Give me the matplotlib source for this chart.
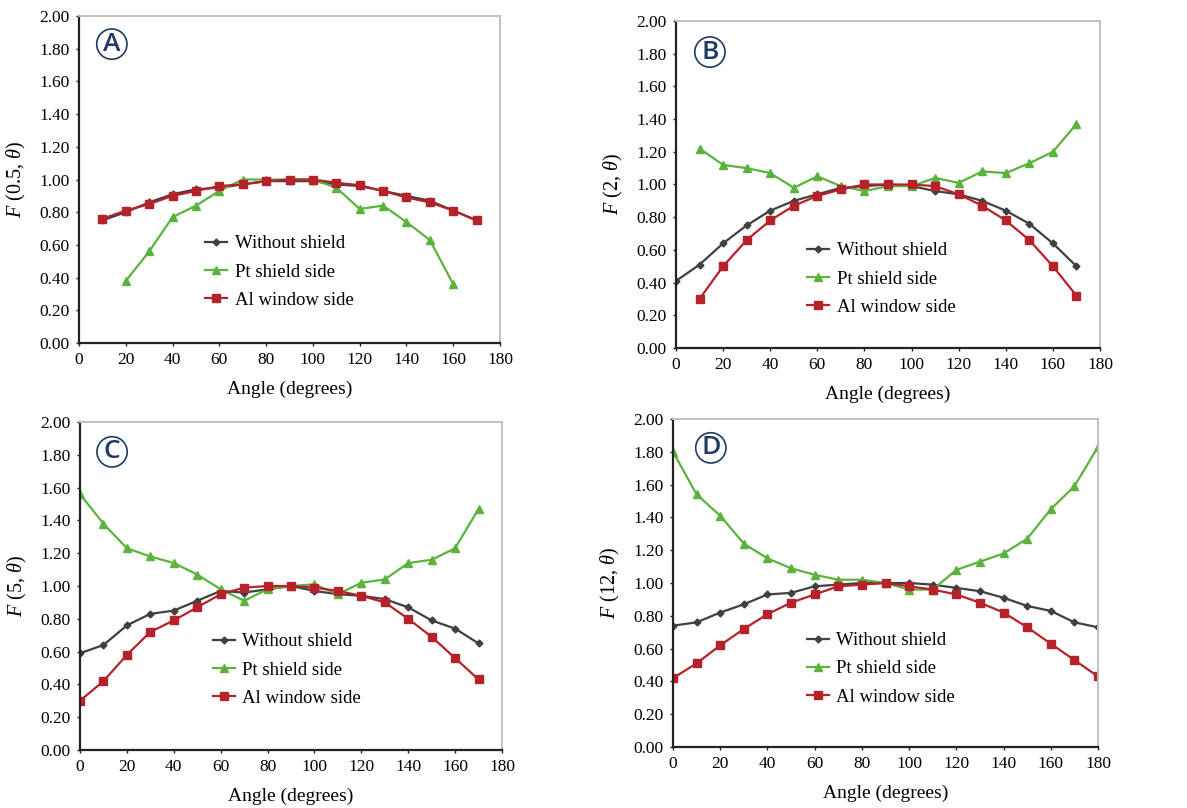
import matplotlib
matplotlib.use('Agg')
import matplotlib.pyplot as plt

plt.rcParams['font.family'] = ['Liberation Serif', 'DejaVu Serif']
plt.rcParams['mathtext.fontset'] = 'custom'
plt.rcParams['mathtext.it'] = 'Liberation Serif:italic'
plt.rcParams['mathtext.rm'] = 'Liberation Serif'

# ---- data ----
angles_a = [10, 20, 30, 40, 50, 60, 70, 80, 90, 100, 110, 120, 130, 140, 150, 160, 170]
angles_a_pt = [20, 30, 40, 50, 60, 70, 80, 90, 100, 110, 120, 130, 140, 150, 160]
a_without = [0.75, 0.80, 0.86, 0.91, 0.94, 0.95, 0.97, 0.99, 0.99, 0.99, 0.97, 0.96, 0.93, 0.90, 0.87, 0.81, 0.75]
a_pt = [0.38, 0.56, 0.77, 0.84, 0.93, 1.00, 1.00, 1.00, 1.00, 0.95, 0.82, 0.84, 0.74, 0.63, 0.36]
a_al = [0.76, 0.81, 0.85, 0.90, 0.93, 0.96, 0.97, 0.99, 1.00, 1.00, 0.98, 0.965, 0.93, 0.89, 0.86, 0.81, 0.75]

angles_b = [0, 10, 20, 30, 40, 50, 60, 70, 80, 90, 100, 110, 120, 130, 140, 150, 160, 170]
angles_b_other = [10, 20, 30, 40, 50, 60, 70, 80, 90, 100, 110, 120, 130, 140, 150, 160, 170]
b_without = [0.41, 0.51, 0.64, 0.75, 0.84, 0.90, 0.94, 0.98, 0.99, 1.00, 0.99, 0.96, 0.94, 0.90, 0.84, 0.76, 0.64, 0.50]
b_pt = [1.22, 1.12, 1.10, 1.07, 0.98, 1.05, 0.99, 0.96, 0.99, 0.99, 1.04, 1.01, 1.08, 1.07, 1.13, 1.20, 1.37]
b_al = [0.30, 0.50, 0.66, 0.78, 0.87, 0.93, 0.97, 1.00, 1.00, 1.00, 0.99, 0.94, 0.87, 0.78, 0.66, 0.50, 0.32]

angles_c = [0, 10, 20, 30, 40, 50, 60, 70, 80, 90, 100, 110, 120, 130, 140, 150, 160, 170]
c_without = [0.59, 0.64, 0.76, 0.83, 0.85, 0.91, 0.97, 0.96, 0.98, 1.00, 0.97, 0.95, 0.94, 0.92, 0.87, 0.79, 0.74, 0.65]
c_pt = [1.56, 1.38, 1.23, 1.18, 1.14, 1.07, 0.98, 0.91, 0.98, 1.00, 1.01, 0.95, 1.02, 1.04, 1.14, 1.16, 1.23, 1.47]
c_al = [0.30, 0.42, 0.58, 0.72, 0.79, 0.87, 0.95, 0.99, 1.00, 1.00, 0.99, 0.97, 0.94, 0.90, 0.80, 0.69, 0.56, 0.43]

angles_d = [0, 10, 20, 30, 40, 50, 60, 70, 80, 90, 100, 110, 120, 130, 140, 150, 160, 170, 180]
d_without = [0.74, 0.76, 0.82, 0.87, 0.93, 0.94, 0.98, 0.99, 1.00, 1.00, 1.00, 0.99, 0.97, 0.95, 0.91, 0.86, 0.83, 0.76, 0.73]
d_pt = [1.80, 1.54, 1.41, 1.24, 1.15, 1.09, 1.05, 1.02, 1.02, 1.00, 0.96, 0.96, 1.08, 1.13, 1.18, 1.27, 1.45, 1.59, 1.83]
d_al = [0.42, 0.51, 0.62, 0.72, 0.81, 0.88, 0.93, 0.98, 0.99, 1.00, 0.98, 0.96, 0.93, 0.88, 0.82, 0.73, 0.63, 0.53, 0.43]

series_labels = ['Without shield', 'Pt shield side', 'Al window side']
panel_letters = ['A', 'B', 'C', 'D']
ylabels = ['$F$ (0.5, $\\theta$)', '$F$ (2, $\\theta$)', '$F$ (5, $\\theta$)', '$F$ (12, $\\theta$)']

panels = [
    (angles_a, a_without, angles_a_pt, a_pt, angles_a, a_al),
    (angles_b, b_without, angles_b_other, b_pt, angles_b_other, b_al),
    (angles_c, c_without, angles_c, c_pt, angles_c, c_al),
    (angles_d, d_without, angles_d, d_pt, angles_d, d_al),
]

# axes boxes in pixels (left, top, right, bottom)
boxes = [(79, 16, 500, 343), (676, 21, 1100, 348), (80, 422, 502, 750), (673, 419, 1098, 747)]
legend_anchor = [(0.30, 0.217), (0.31, 0.211), (0.315, 0.244), (0.315, 0.238)]
letter_pos = [(0.078, 0.914), (0.080, 0.905), (0.076, 0.909), (0.089, 0.912)]

W, H = 1187, 808
fig = plt.figure(figsize=(W / 100, H / 100), dpi=100)

black_c = '#404040'
green_c = '#5bb33d'
red_c = '#b5222a'
navy = '#1f3b63'

for i, (x1, y1, x2, y2, x3, y3) in enumerate(panels):
    l, t, r, b = boxes[i]
    ax = fig.add_axes([l / W, 1 - b / H, (r - l) / W, (b - t) / H])
    ax.plot(x1, y1, color=black_c, marker='D', markersize=3.5, lw=1.6, label=series_labels[0])
    ax.plot(x2, y2, color=green_c, marker='^', markersize=5.5, lw=1.6, label=series_labels[1])
    ax.plot(x3, y3, color=red_c, marker='s', markersize=5.5, lw=1.6, label=series_labels[2])

    ax.set_xlim(0, 180)
    ax.set_ylim(0, 2.0)
    ax.set_xticks(range(0, 181, 20))
    ax.set_yticks([k * 0.2 for k in range(11)])
    ax.set_yticklabels(['%.2f' % (k * 0.2) for k in range(11)])
    ax.tick_params(labelsize=12.5, length=2.5, width=1, color='#222222', pad=4)
    for s in ['left', 'bottom']:
        ax.spines[s].set_color('#222222')
        ax.spines[s].set_linewidth(1.6)
    for s in ['top', 'right']:
        ax.spines[s].set_color('#c0c0c0')
        ax.spines[s].set_linewidth(1.4)

    ax.set_xlabel('Angle (degrees)', fontsize=14, labelpad=9)
    ax.set_ylabel(ylabels[i], fontsize=14.5, labelpad=8)

    ax.legend(loc='center left', bbox_to_anchor=legend_anchor[i], frameon=False,
              fontsize=13.5, borderpad=0, borderaxespad=0, handlelength=1.17,
              handletextpad=0.4, labelspacing=0.6)

    ax.text(letter_pos[i][0], letter_pos[i][1], panel_letters[i], transform=ax.transAxes,
            ha='center', va='center', fontsize=19, color=navy, family='Open Sans',
            weight='semibold',
            bbox=dict(boxstyle='circle,pad=0.1', fc='white', ec=navy, lw=1.2))

fig.savefig('out.png', dpi=100)
